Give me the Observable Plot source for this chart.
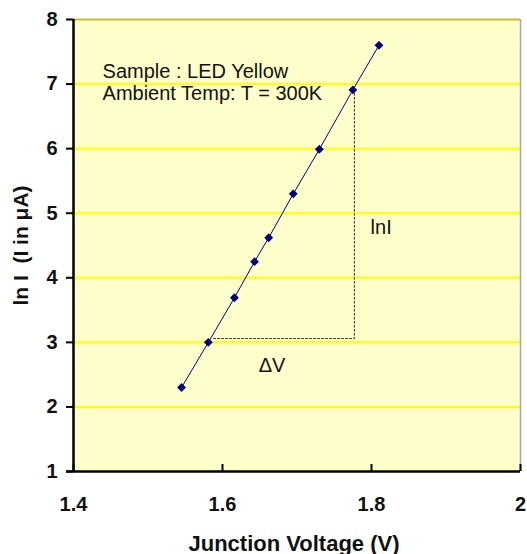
<!DOCTYPE html>
<html>
<head>
<meta charset="utf-8">
<script src="https://cdn.jsdelivr.net/npm/d3@7"></script>
<script src="https://cdn.jsdelivr.net/npm/@observablehq/plot@0.6"></script>
<style>
  html, body { margin: 0; padding: 0; background: #ffffff; }
  #chart { width: 527px; height: 554px; }
</style>
</head>
<body>
<div id="chart"></div>
<script>
// Data
const junctionVoltage = [1.545, 1.581, 1.616, 1.643, 1.662, 1.695, 1.730, 1.775, 1.810];
const lnCurrent = [2.30, 3.00, 3.69, 4.25, 4.62, 5.30, 5.99, 6.91, 7.60];
const xTicks = [1.4, 1.6, 1.8, 2.0];
const xTickLabels = ["1.4", "1.6", "1.8", "2"];
const yTicks = [1, 2, 3, 4, 5, 6, 7, 8];
const yTickLabels = ["1", "2", "3", "4", "5", "6", "7", "8"];
const gridLevels = [2, 3, 4, 5, 6, 7];
// slope-triangle guide (dotted)
const guideV = [1.588, 1.777, 1.777];
const guideLnI = [3.06, 3.06, 6.91];
// annotations: sample info box (left-aligned) and slope labels (centred)
const infoText = ["Sample : LED Yellow", "Ambient Temp: T = 300K"];
const infoV = [1.439, 1.439];
const infoLnI = [7.19, 6.86];
const slopeText = ["lnI", "\u0394V"];
const slopeV = [1.813, 1.6665];
const slopeLnI = [4.77, 2.64];

const points = junctionVoltage.map((v, i) => ({v, lnI: lnCurrent[i]}));
const guide = guideV.map((v, i) => ({v, lnI: guideLnI[i]}));
const info = infoText.map((t, i) => ({t, v: infoV[i], lnI: infoLnI[i]}));
const slope = slopeText.map((t, i) => ({t, v: slopeV[i], lnI: slopeLnI[i]}));
const xLab = xTicks.map((v, i) => ({v, t: xTickLabels[i]}));
const yLab = yTicks.map((v, i) => ({v, t: yTickLabels[i]}));

const xMin = xTicks[0], xMax = xTicks[xTicks.length - 1];
const yMin = yTicks[0], yMax = yTicks[yTicks.length - 1];

const chart = Plot.plot({
  width: 527,
  height: 554,
  marginLeft: 73,
  marginRight: 7,
  marginTop: 19,
  marginBottom: 83,
  style: {fontFamily: "'Liberation Sans', Arial, sans-serif", background: "#ffffff", color: "#000000", overflow: "visible"},
  x: {domain: [xMin, xMax]},
  y: {domain: [yMin, yMax]},
  marks: [
    Plot.frame({fill: "#FFFFCC", stroke: null}),
    Plot.ruleY(gridLevels, {stroke: "#FFFF00", strokeWidth: 2}),
    Plot.ruleY([yMax], {stroke: "#C8C02A", strokeWidth: 2}),
    Plot.ruleX([xMax], {stroke: "#A8A8A8", strokeWidth: 1.5}),
    Plot.line(guide, {x: "v", y: "lnI", stroke: "#333333", strokeWidth: 1, strokeDasharray: "2,2"}),
    Plot.line(points, {x: "v", y: "lnI", stroke: "#000080", strokeWidth: 1}),
    Plot.dot(points, {x: "v", y: "lnI", symbol: "diamond2", r: 4, fill: "#000080", stroke: "none"}),
    Plot.text(info, {x: "v", y: "lnI", text: "t", textAnchor: "start", fontSize: 20, fill: "#111111", lineAnchor: "middle"}),
    Plot.text(slope, {x: "v", y: "lnI", text: "t", textAnchor: "middle", fontSize: 20, fill: "#111111", lineAnchor: "middle"}),
    Plot.axisY({ticks: yTicks, tickSize: 7, tickFormat: () => "", label: null, strokeWidth: 2}),
    Plot.axisX({ticks: xTicks, tickSize: -7, tickFormat: () => "", label: null, strokeWidth: 2}),
    Plot.text(yLab, {y: "v", text: "t", frameAnchor: "left", dx: -16, textAnchor: "end", lineAnchor: "middle", fontSize: 20, fontWeight: "bold", fill: "#111111"}),
    Plot.text(xLab, {x: "v", text: "t", frameAnchor: "bottom", dy: 33, textAnchor: "middle", lineAnchor: "middle", fontSize: 20, fontWeight: "bold", fill: "#111111"}),
    Plot.ruleX([xMin], {stroke: "#000000", strokeWidth: 2.5}),
    Plot.ruleY([yMin], {stroke: "#000000", strokeWidth: 2.5, insetLeft: -7}),
    Plot.text(["Junction Voltage (V)"], {frameAnchor: "bottom", dy: 72, dx: -3, fontSize: 22, fontWeight: "bold", textAnchor: "middle", lineAnchor: "middle", fill: "#111111"}),
    Plot.text(["ln I  (I in \u03bcA)"], {frameAnchor: "left", dx: -52, rotate: -90, fontSize: 21, fontWeight: "bold", textAnchor: "middle", lineAnchor: "middle", fill: "#111111", style: "white-space: pre"})
  ]
});
document.getElementById("chart").appendChild(chart);
</script>
</body>
</html>
